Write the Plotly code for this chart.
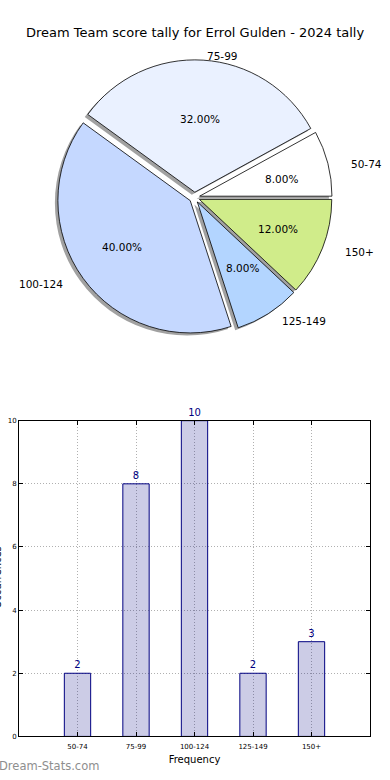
import math
import plotly.graph_objects as go

title = "Dream Team score tally for Errol Gulden - 2024 tally"
categories = ["50-74", "75-99", "100-124", "125-149", "150+"]
counts = [2, 8, 10, 2, 3]
pie_colors = ["#ffffff", "#eaf1ff", "#c5d8ff", "#b3d5ff", "#d0ec8a"]
y_ticks = [0, 2, 4, 6, 8, 10]
x_title = "Frequency"
y_title = "Occurrences"
watermark = "Dream-Stats.com"

W, H = 390, 780


def px_x(p):
    return p / W


def px_y(p):
    return 1 - p / H


total = sum(counts)
fracs = [c / total for c in counts]
pct_text = [f"{f * 100:.2f}%" for f in fracs]

# pie geometry (page pixels); reference pie is slightly elliptical (sx wide, sy tall)
cx, cy = 194.5, 197.5
sx, sy = 140.0, 127.4
explode = 0.04
r = (sx + sy) / 2
half = r * (1 + explode)
dom_x = [px_x(cx - half), px_x(cx + half)]
dom_y = [px_y(cy - 2 + half), px_y(cy - 2 - half)]
sh_x, sh_y = 3, 2.5
dom_x_sh = [dom_x[0] - sh_x / W, dom_x[1] - sh_x / W]
dom_y_sh = [dom_y[0] - sh_y / H, dom_y[1] - sh_y / H]

FONT = "DejaVu Sans"
fig = go.Figure()

common = dict(labels=categories, values=counts, sort=False, direction="counterclockwise",
              rotation=90 - fracs[0] * 360, pull=[explode] * len(counts), showlegend=False,
              hoverinfo="skip", textinfo="none")

fig.add_trace(go.Pie(domain=dict(x=dom_x_sh, y=dom_y_sh),
                     marker=dict(colors=["rgba(110,110,110,0.65)"] * len(counts), line=dict(width=0)),
                     **common))
fig.add_trace(go.Pie(domain=dict(x=dom_x, y=dom_y),
                     marker=dict(colors=pie_colors, line=dict(color="black", width=0.8)),
                     **common))

# slice labels (outside) and percentages (inside), placed along each slice's mid angle
annotations = []
start = 0.0
for cat, f, pt in zip(categories, fracs, pct_text):
    mid = math.radians((start + f / 2) * 360)
    start += f
    c, s = math.cos(mid), math.sin(mid)
    lx = cx + (explode + 1.1) * c * sx
    ly = cy - (explode + 1.1) * s * sy
    annotations.append(dict(text=cat, x=px_x(lx), y=px_y(ly), xref="paper", yref="paper",
                            showarrow=False, xanchor="left" if c > 0 else "right", yanchor="middle",
                            font=dict(family=FONT, size=10.5, color="black")))
    tx = cx + (explode + 0.6) * c * sx
    ty = cy - (explode + 0.6) * s * sy
    annotations.append(dict(text=pt, x=px_x(tx), y=px_y(ty), xref="paper", yref="paper",
                            showarrow=False, xanchor="center", yanchor="middle",
                            font=dict(family=FONT, size=10.5, color="black")))

fig.add_trace(go.Bar(x=categories, y=counts, width=0.45, text=[str(c) for c in counts],
                     textposition="outside", cliponaxis=False,
                     textfont=dict(family=FONT, size=10, color="#000080"),
                     marker=dict(color="rgba(0,0,128,0.2)", line=dict(color="#000080", width=1)),
                     showlegend=False, hoverinfo="skip", xaxis="x", yaxis="y"))

axis_common = dict(showline=True, linecolor="black", linewidth=1, mirror="ticks",
                   ticks="inside", ticklen=4, tickcolor="black",
                   showgrid=True, gridcolor="#b0b0b0", griddash="1px,2px", gridwidth=1,
                   zeroline=False, tickfont=dict(family=FONT, size=7, color="black"))

annotations += [
    dict(text=title, x=0.5, y=px_y(29), xref="paper", yref="paper", showarrow=False,
         xanchor="center", yanchor="middle",
         font=dict(family=FONT, size=13, color="black")),
    dict(text=y_title, x=0, y=px_y(580), xref="paper", yref="paper", showarrow=False,
         textangle=-90, xanchor="right", yanchor="middle", xshift=5,
         font=dict(family=FONT, size=10, color="black")),
    dict(text=watermark, x=0, y=px_y(770), xref="paper", yref="paper", showarrow=False,
         xanchor="left", yanchor="middle", xshift=-3,
         font=dict(family=FONT, size=11.5, color="#8e8e8e")),
]

fig.update_layout(
    width=W, height=H, margin=dict(l=0, r=0, t=0, b=0),
    paper_bgcolor="white", plot_bgcolor="white",
    xaxis=dict(domain=[px_x(19), px_x(370)], range=[-1, 5], type="category",
               ticklabelstandoff=3,
               title=dict(text=x_title, font=dict(family=FONT, size=10, color="black"), standoff=6),
               **axis_common),
    yaxis=dict(domain=[px_y(740), px_y(421)], range=[0, 10], tickvals=y_ticks,
               **axis_common),
    annotations=annotations,
)

fig.write_html(
    "out.html",
    config={"displayModeBar": False},
    post_script="document.body.style.margin='0';document.body.style.padding='0';"
                "document.body.style.overflow='hidden';",
)
